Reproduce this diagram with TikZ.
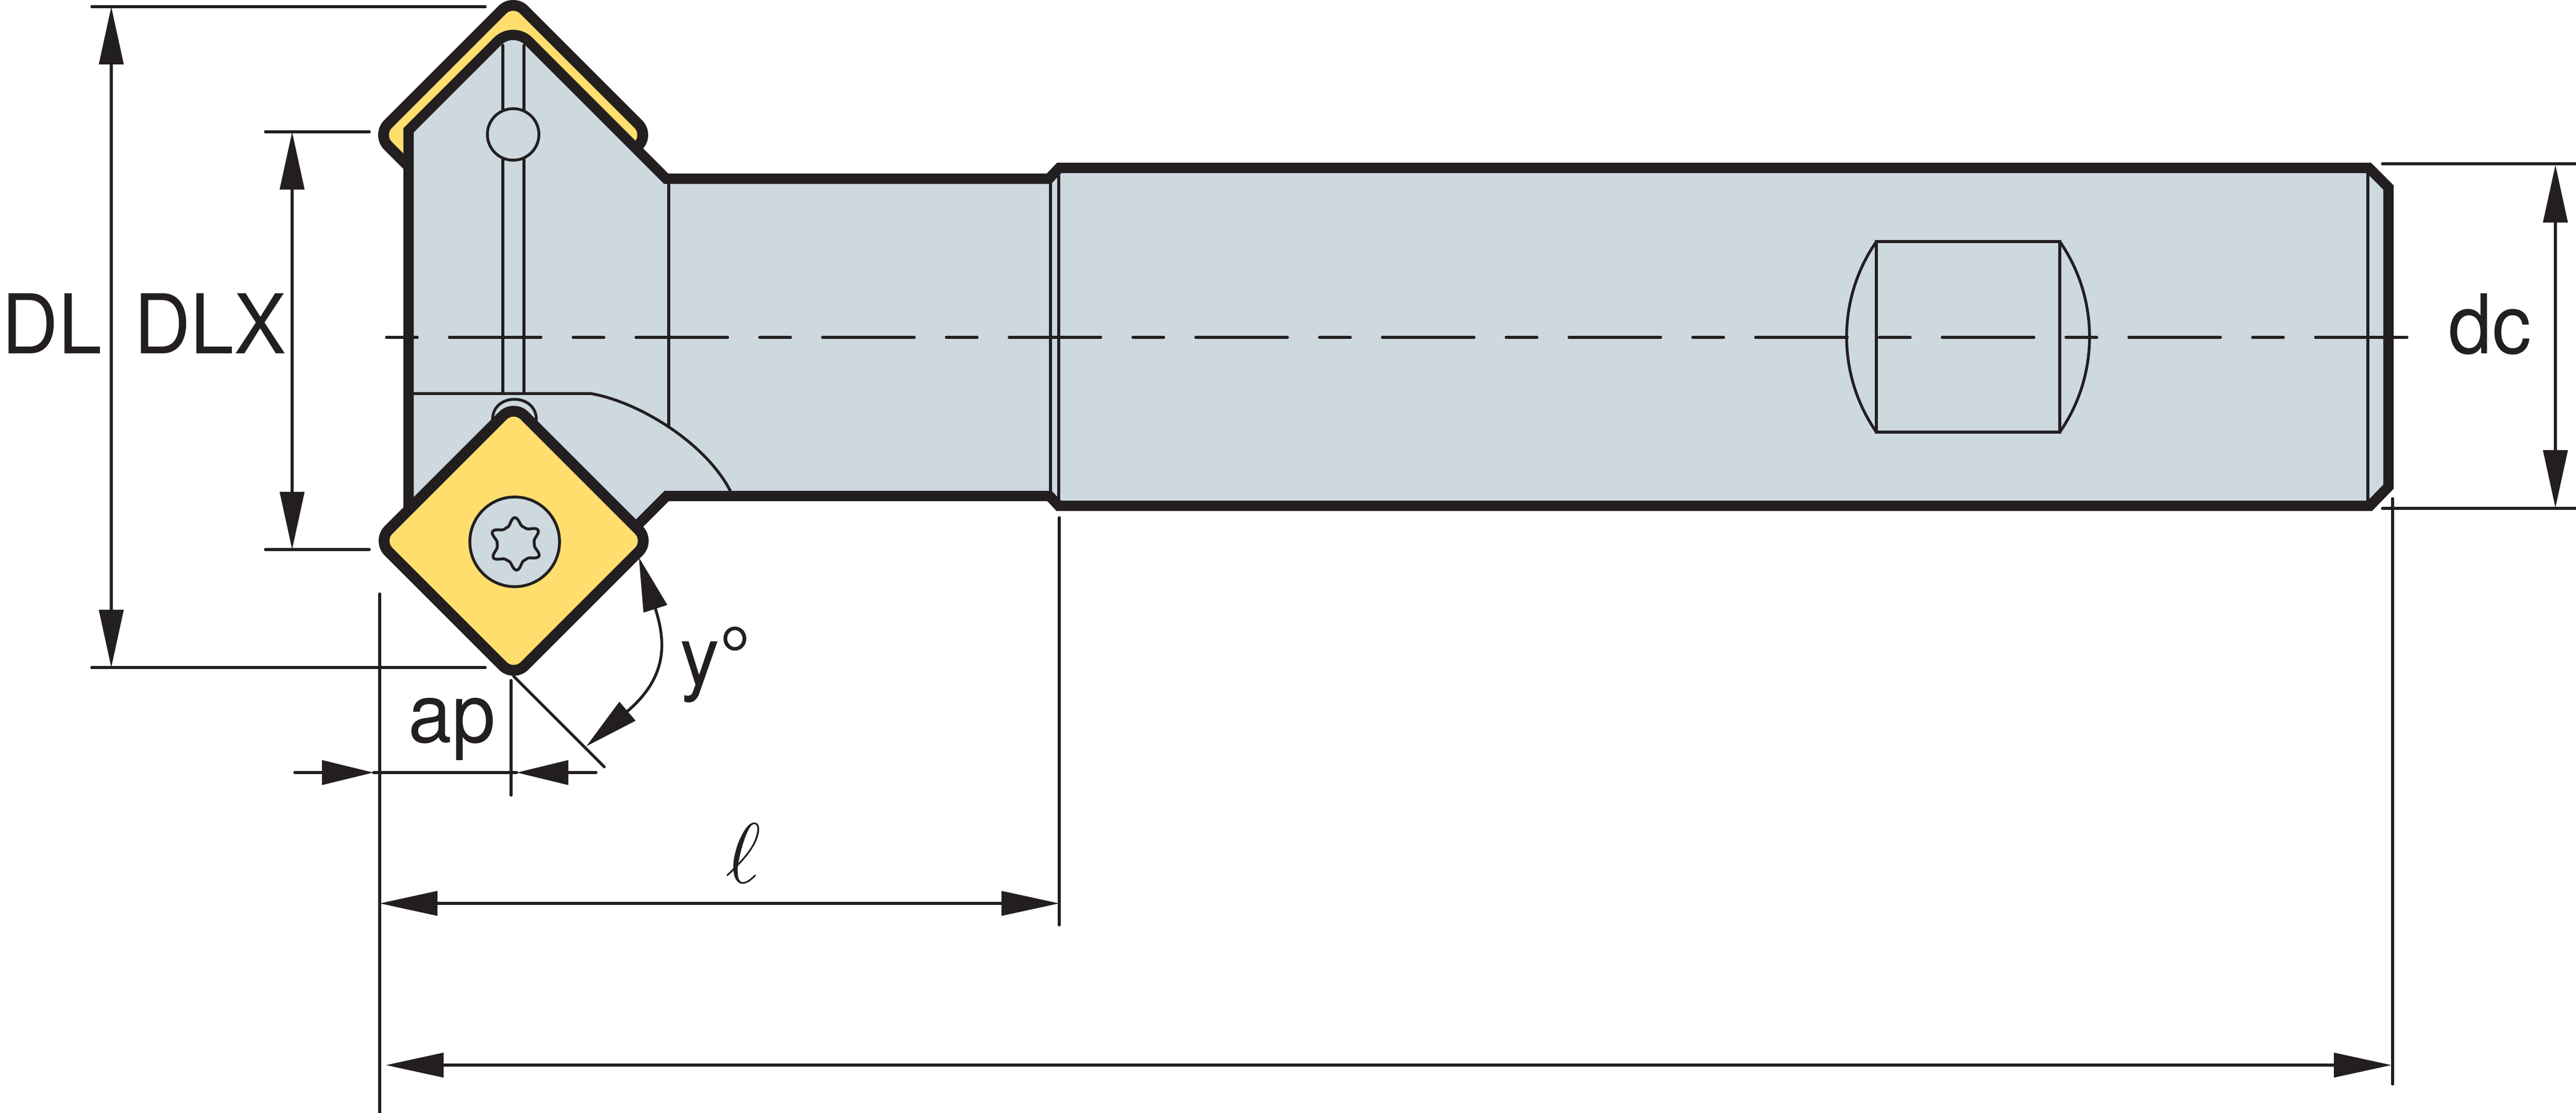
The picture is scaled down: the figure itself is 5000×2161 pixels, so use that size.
\documentclass[tikz,border=0pt]{standalone}
\usepackage{xcolor}
\usepackage{fontspec}
\setmainfont{TeX Gyre Heros}
\usetikzlibrary{arrows.meta}
\definecolor{inkblack}{HTML}{231F20}
\definecolor{toolgrey}{HTML}{CDD8DF}
\definecolor{insertyellow}{HTML}{FFDE6E}
\tikzstyle{outline} = [draw=inkblack, line width=0.2cm, line join=miter]
\tikzstyle{insertbox} = [outline, line width=0.21cm, fill=insertyellow, rounded corners=0.3cm]
\tikzstyle{fine} = [draw=inkblack, line width=0.055cm, line cap=round]
\tikzstyle{dim} = [fine, {Stealth[length=1.12cm,width=0.47cm,inset=0pt]}-{Stealth[length=1.12cm,width=0.47cm,inset=0pt]}]
\tikzstyle{dimangle} = [fine, {Stealth[length=1.05cm,width=0.47cm,inset=0pt]}-{Stealth[length=1.05cm,width=0.47cm,inset=0pt]}]
\tikzstyle{tipend} = [fine, -{Stealth[length=1cm,width=0.47cm,inset=0pt]}]
\tikzstyle{dimtext} = [inner sep=0pt, text=inkblack, xscale=0.95, font=\fontsize{45.5}{50}\selectfont]

\begin{document}
\begin{tikzpicture}[x=0.01cm, y=-0.01cm]
	\useasboundingbox (0,0) rectangle (5000,2161);

	% coordinates are the pixels of the drawing, y downward
	\coordinate (seatTip) at (996,50);
	\coordinate (dlTop) at (178,13);
	\coordinate (dlTopEnd) at (942,13);
	\coordinate (dlBot) at (178,1296);
	\coordinate (dlBotEnd) at (942,1296);
	\coordinate (dlA) at (216,13);
	\coordinate (dlB) at (216,1296);
	\coordinate (dlxTop) at (515,256);
	\coordinate (dlxTopEnd) at (717,256);
	\coordinate (dlxBot) at (515,1067);
	\coordinate (dlxBotEnd) at (717,1067);
	\coordinate (dlxA) at (567,256);
	\coordinate (dlxB) at (567,1067);
	\coordinate (dcTop) at (4624,318);
	\coordinate (dcTopEnd) at (5000,318);
	\coordinate (dcBot) at (4624,987);
	\coordinate (dcBotEnd) at (5000,987);
	\coordinate (dcA) at (4960,320);
	\coordinate (dcB) at (4960,986);

	% insert behind the seat
	\path [insertbox] (996,-2) -- (1260,262) -- (996,526) -- (732,262) -- cycle;

	% tool body
	\path [outline, fill=toolgrey] (793,1047) -- (793,253) [rounded corners=0.43cm] -- (seatTip) [sharp corners] -- (1293,347)
		-- (2036,347) -- (2056,326) -- (4598,326) -- (4636,364) -- (4636,945) -- (4600,982)
		-- (2055,982) -- (2037,963) -- (1294,963) -- (1210,1047) -- cycle;

	% body details
	\draw [fine] (976,88) -- (976,764);
	\draw [fine] (1017,88) -- (1017,764);
	\node (bore) [fine, fill=toolgrey, circle, minimum size=1cm, inner sep=0pt] at (996,261) {};
	\draw [fine] (1298,357) -- (1298,829);
	\draw [fine] (803,764) -- (1146,764) .. controls (1240,780) and (1370,860) .. (1418,954);
	\draw [fine] (2039,357) -- (2039,954);
	\draw [fine] (2055,336) -- (2055,973);
	\draw [fine] (4596,336) -- (4596,973);
	\draw [fine] (3642,469) rectangle (3998,839);
	\draw [fine] (3642,469) .. controls (3565,580) and (3565,728) .. (3642,839);
	\draw [fine] (3998,469) .. controls (4075,580) and (4075,728) .. (3998,839);
	\draw [fine, dash pattern=on 0.60cm off 0.62cm on 1.78cm off 0.62cm] (750,655) -- (4672,655);
	\draw [fine, fill=toolgrey] (956,815) .. controls (956,762) and (1041,762) .. (1041,815);

	% front insert with its screw
	\path [insertbox] (997,786) -- (1261,1050) -- (997,1314) -- (733,1050) -- cycle;
	\node (screw) [fine, fill=toolgrey, circle, minimum size=1.74cm, inner sep=0pt] at (999,1052) {};
	\draw [fine, smooth] plot [domain=0:360, samples=120] ({1001+(36+15*(0.5+0.5*cos(6*(\x-92)))^2)*cos(\x)}, {1056-(36+15*(0.5+0.5*cos(6*(\x-92)))^2)*sin(\x)}) -- cycle;

	% dimensions
	\draw [fine] (dlTop) -- (dlTopEnd);
	\draw [fine] (dlBot) -- (dlBotEnd);
	\draw [dim] (dlA) -- (dlB);
	\node (dl) [dimtext] at (101,628) {DL};
	\draw [fine] (dlxTop) -- (dlxTopEnd);
	\draw [fine] (dlxBot) -- (dlxBotEnd);
	\draw [dim] (dlxA) -- (dlxB);
	\node (dlx) [dimtext] at (408,628) {DLX};
	\draw [fine] (dcTop) -- (dcTopEnd);
	\draw [fine] (dcBot) -- (dcBotEnd);
	\draw [dim] (dcA) -- (dcB);
	\node (dc) [dimtext] at (4833,629) {dc};

	\coordinate (apLeft) at (737,1153);
	\coordinate (apLeftEnd) at (737,2161);
	\coordinate (apRight) at (992,1321);
	\coordinate (apRightEnd) at (992,1544);
	\coordinate (lenRight) at (2056,1005);
	\coordinate (lenRightEnd) at (2056,1796);
	\coordinate (totRight) at (4644,968);
	\coordinate (totRightEnd) at (4644,2105);
	\draw [fine] (apLeft) -- (apLeftEnd);
	\draw [fine] (apRight) -- (apRightEnd);
	\draw [fine] (lenRight) -- (lenRightEnd);
	\draw [fine] (totRight) -- (totRightEnd);
	\coordinate (apFarLeft) at (572,1500);
	\coordinate (apFarRight) at (1157,1500);
	\coordinate (apTipLeft) at (725,1500);
	\coordinate (apTipRight) at (1003,1500);
	\draw [tipend] (apFarLeft) -- (apTipLeft);
	\draw [tipend] (apFarRight) -- (apTipRight);
	\draw [fine] (apTipLeft) -- (apTipRight);
	\node (ap) [dimtext, anchor=base] at (877,1441) {ap};

	\coordinate (angStart) at (997,1313);
	\coordinate (angEnd) at (1173,1489);
	\coordinate (angTipLow) at (1138,1449);
	\coordinate (angTipHigh) at (1240,1082);
	\draw [fine] (angStart) -- (angEnd);
	\draw [dimangle] (angTipLow) .. controls (1294,1316) and (1294,1250) .. (angTipHigh);
	\node (angle) [dimtext, anchor=base west] at (1320,1329) {y°};

	\coordinate (lenA) at (737,1754);
	\coordinate (lenB) at (2056,1754);
	\draw [dim] (lenA) -- (lenB);
	\node (len) [inner sep=0pt, text=inkblack, scale=1.9, font=\fontsize{48}{50}\selectfont] at (1443,1657) {$\ell$};

	\coordinate (totA) at (749,2068);
	\coordinate (totB) at (4642,2068);
	\draw [dim] (totA) -- (totB);
\end{tikzpicture}
\end{document}
